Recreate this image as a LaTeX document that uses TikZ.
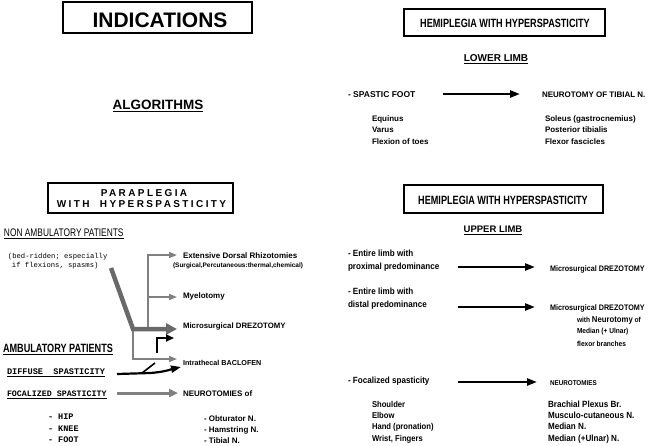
\documentclass[tikz,border=0pt]{standalone}
\usepackage{fontspec}
\setmainfont{Liberation Sans}
\setmonofont{Liberation Mono}
\newfontfamily\narf[FakeStretch=0.9]{Liberation Sans}
\newfontfamily\narrf[FakeStretch=0.76]{Liberation Sans}
\newfontfamily\spacedf[LetterSpace=24]{Liberation Sans}
\newcommand\fsz[1]{\fontsize{#1}{#1}\selectfont}
\usetikzlibrary{arrows.meta}
\definecolor{ag}{RGB}{128,128,128}
\definecolor{hg}{RGB}{105,105,105}
\begin{document}
\begin{tikzpicture}[x=1pt,y=-1pt,
  every node/.style={inner sep=0pt,outer sep=0pt},
  titlebox/.style={draw,line width=1.8pt},
  lbl/.style={anchor=base west},
  ctr/.style={anchor=base},
  ul/.style={line width=1pt},
  blackarrow/.style={line width=2.4pt,-{Triangle[length=10pt,width=7pt]}},
  grayarrow/.style={draw=ag,line width=1.5pt,-{Triangle[length=8pt,width=6pt]}},
  hatcharrow/.style={draw=hg,line width=4.5pt,line join=miter,-{Triangle[length=11pt,width=11pt]}},
  bentarrow/.style={line width=1.8pt,-{Triangle[length=8pt,width=7pt]}},
  focarrow/.style={draw=ag,line width=3pt,-{Triangle[length=9pt,width=8pt]}}
]
\path[use as bounding box] (0,0) rectangle (650,445);

% ---------- left top ----------
\node[titlebox,minimum width=189pt,minimum height=31pt] (indbox) at (157.5,17.5) {};
\node[ctr,font=\bfseries\fsz{21}] (ind) at (160,27) {INDICATIONS};
\node[ctr,font=\bfseries\fsz{13.5}] (alg) at (158,109) {ALGORITHMS};
\draw[ul] ([yshift=-2pt]alg.base west) -- ([yshift=-2pt]alg.base east);

% ---------- right top ----------
\node[titlebox,minimum width=201pt,minimum height=27pt] (hbox1) at (504.5,22.5) {};
\node[ctr,font=\narrf\bfseries\fsz{12}] (h1) at (505,27) {HEMIPLEGIA WITH HYPERSPASTICITY};
\node[ctr,font=\bfseries\fsz{10}] (low) at (496,61) {LOWER LIMB};
\draw[ul] ([yshift=-2pt]low.base west) -- ([yshift=-2pt]low.base east);
\node[lbl,font=\bfseries\fsz{8.5}] (sf) at (348,97) {- SPASTIC FOOT};
\node[lbl,font=\bfseries\fsz{8}] (nt) at (542,97) {NEUROTOMY OF TIBIAL N.};
\coordinate (a1s) at (443,94);
\coordinate (a1e) at (520,94);
\draw[blackarrow] (a1s) -- (a1e);
\node[lbl,font=\bfseries\fsz{8}] (eq) at (372,121) {Equinus};
\node[lbl,font=\bfseries\fsz{8}] (va) at (372,132) {Varus};
\node[lbl,font=\bfseries\fsz{8}] (ft) at (372,144) {Flexion of toes};
\node[lbl,font=\bfseries\fsz{8}] (so) at (545,121) {Soleus (gastrocnemius)};
\node[lbl,font=\bfseries\fsz{8}] (pt) at (545,132) {Posterior tibialis};
\node[lbl,font=\bfseries\fsz{8}] (ff) at (545,144) {Flexor fascicles};

% ---------- right bottom ----------
\node[titlebox,minimum width=199pt,minimum height=28pt] (hbox2) at (503.5,199) {};
\node[ctr,font=\narrf\bfseries\fsz{12}] (h2) at (503,204) {HEMIPLEGIA WITH HYPERSPASTICITY};
\node[ctr,font=\bfseries\fsz{9.5}] (upl) at (493,232) {UPPER LIMB};
\draw[ul] ([yshift=-2pt]upl.base west) -- ([yshift=-2pt]upl.base east);
\node[lbl,font=\narf\bfseries\fsz{9}] (el1) at (348,256) {- Entire limb with};
\node[lbl,font=\narf\bfseries\fsz{9}] (pp) at (348,269) {proximal predominance};
\node[lbl,font=\narf\bfseries\fsz{9}] (el2) at (348,294) {- Entire limb with};
\node[lbl,font=\narf\bfseries\fsz{9}] (dp) at (348,307) {distal predominance};
\node[lbl,font=\narf\bfseries\fsz{9}] (fs) at (348,383) {- Focalized spasticity};
\coordinate (a2s) at (458,267); \coordinate (a2e) at (535,267);
\coordinate (a3s) at (458,307); \coordinate (a3e) at (535,307);
\coordinate (a4s) at (458,382); \coordinate (a4e) at (537,382);
\draw[blackarrow] (a2s) -- (a2e);
\draw[blackarrow] (a3s) -- (a3e);
\draw[blackarrow] (a4s) -- (a4e);
\node[lbl,font=\narf\bfseries\fsz{8}] (md1) at (550,271) {Microsurgical DREZOTOMY};
\node[lbl,font=\narf\bfseries\fsz{8}] (md2) at (550,310) {Microsurgical DREZOTOMY};
\node[lbl,font=\narf\bfseries\fsz{7.3}] (wn) at (577,322) {with {\fsz{8.6}Neurotomy} of};
\node[lbl,font=\narf\bfseries\fsz{7.3}] (mu) at (577,333) {Median (+ Ulnar)};
\node[lbl,font=\narf\bfseries\fsz{7.3}] (fb) at (577,346) {flexor branches};
\node[lbl,font=\narf\bfseries\fsz{7}] (nts) at (550,385) {NEUROTOMIES};
\node[lbl,font=\narf\bfseries\fsz{8.5}] (sh) at (372,407) {Shoulder};
\node[lbl,font=\narf\bfseries\fsz{8.5}] (eb) at (372,418) {Elbow};
\node[lbl,font=\narf\bfseries\fsz{8.5}] (hp) at (372,429) {Hand (pronation)};
\node[lbl,font=\narf\bfseries\fsz{8.5}] (wf) at (372,441) {Wrist, Fingers};
\node[lbl,font=\narf\bfseries\fsz{9}] (bp) at (548,407) {Brachial Plexus Br.};
\node[lbl,font=\narf\bfseries\fsz{9}] (mc) at (548,418) {Musculo-cutaneous N.};
\node[lbl,font=\narf\bfseries\fsz{9}] (mn) at (548,429) {Median N.};
\node[lbl,font=\narf\bfseries\fsz{9}] (mun) at (548,441) {Median (+Ulnar) N.};

% ---------- left bottom ----------
\node[titlebox,minimum width=185pt,minimum height=30pt] (pbox) at (140.5,198) {};
\node[ctr,font=\spacedf\bfseries\fsz{10}] (pp1) at (144,196) {PARAPLEGIA};
\node[ctr,font=\spacedf\bfseries\fsz{10}] (pp2) at (141.5,207) {WITH\ \ HYPERSPASTICITY};
\node[lbl,font=\narrf\fsz{11}] (nap) at (4,236) {NON AMBULATORY PATIENTS};
\draw[ul] ([yshift=-2pt]nap.base west) -- ([yshift=-2pt]nap.base east);
\node[lbl,font=\ttfamily\fsz{7.2}] (bed1) at (8,258) {(bed-ridden; especially};
\node[lbl,font=\ttfamily\fsz{7.2}] (bed2) at (12,267) {if flexions, spasms)};
\node[lbl,font=\bfseries\fsz{8}] (edr) at (183,258) {Extensive Dorsal Rhizotomies};
\node[lbl,font=\bfseries\fsz{6.5}] (edr2) at (173,267) {(Surgical,Percutaneous:thermal,chemical)};
\node[lbl,font=\bfseries\fsz{8}] (mye) at (183,298) {Myelotomy};
\node[lbl,font=\bfseries\fsz{7.8}] (mdz) at (183,328) {Microsurgical DREZOTOMY};
\node[lbl,font=\narrf\bfseries\fsz{12}] (amb) at (3,352) {AMBULATORY PATIENTS};
\draw[ul] ([yshift=-2pt]amb.base west) -- ([yshift=-2pt]amb.base east);
\node[lbl,font=\bfseries\fsz{7.2}] (itb) at (183,365) {Intrathecal BACLOFEN};
\node[lbl,font=\ttfamily\bfseries\fsz{8.6}] (dif) at (7,374) {DIFFUSE\ \ SPASTICITY};
\draw[ul] ([yshift=-2pt]dif.base west) -- ([yshift=-2pt]dif.base east);
\node[lbl,font=\ttfamily\bfseries\fsz{8.3}] (foc) at (7,396) {FOCALIZED SPASTICITY};
\draw[ul] ([yshift=-2pt]foc.base west) -- ([yshift=-2pt]foc.base east);
\node[lbl,font=\bfseries\fsz{8}] (nto) at (183,396) {NEUROTOMIES of};
\node[lbl,font=\ttfamily\bfseries\fsz{8.5}] (hip) at (48,419) {- HIP};
\node[lbl,font=\ttfamily\bfseries\fsz{8.5}] (knee) at (48,431) {- KNEE};
\node[lbl,font=\ttfamily\bfseries\fsz{8.5}] (foot) at (48,442) {- FOOT};
\node[lbl,font=\bfseries\fsz{8}] (obt) at (204,421) {- Obturator N.};
\node[lbl,font=\bfseries\fsz{8}] (ham) at (204,432) {- Hamstring N.};
\node[lbl,font=\bfseries\fsz{8}] (tib) at (204,443) {- Tibial N.};

% ---------- arrow network ----------
\coordinate (dtop) at (111,268);
\coordinate (junc) at (133,329);
\coordinate (mdzend) at (177,329);
\coordinate (vbr) at (148,329);
\coordinate (vtop) at (148,255);
\coordinate (edrend) at (177,255);
\coordinate (myeb) at (148,297);
\coordinate (myeend) at (177,297);
\coordinate (jdown) at (133,359);
\coordinate (itbend) at (177,359);
\draw[grayarrow] (vbr) -- (vtop) -- (edrend);
\draw[grayarrow] (myeb) -- (myeend);
\draw[grayarrow] (junc) -- (jdown) -- (itbend);
\draw[hatcharrow] (dtop) -- (junc) -- (mdzend);

\coordinate (bb1) at (157,353);
\coordinate (bb2) at (157,338);
\coordinate (bb3) at (174,338);
\draw[bentarrow] (bb1) -- (bb2) -- (bb3);

\coordinate (dfs) at (117,374);
\coordinate (dfm) at (150,373);
\coordinate (dfe) at (181,367);
\coordinate (dfk1) at (142,373);
\coordinate (dfk2) at (155,363);
\draw[blackarrow,line width=2.2pt] (dfs) -- (dfm) .. controls (165,372) and (172,369) .. (dfe);
\draw[line width=1.6pt] (dfk1) -- (dfk2);

\coordinate (fcs) at (117,393);
\coordinate (fce) at (178,393);
\draw[focarrow] (fcs) -- (fce);
\end{tikzpicture}
\end{document}
